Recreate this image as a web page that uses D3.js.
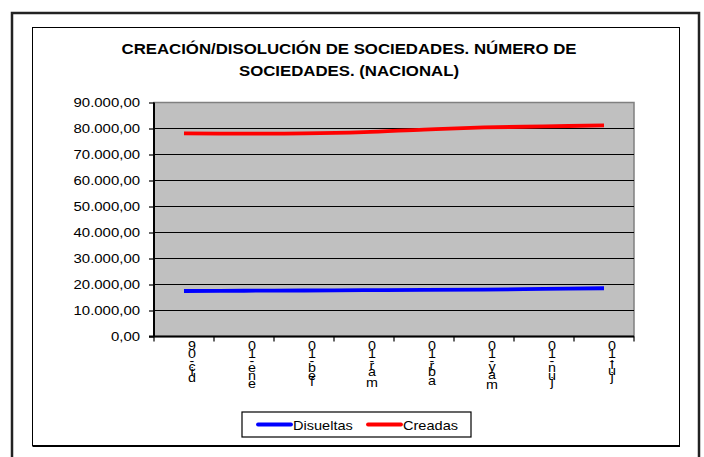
<!DOCTYPE html>
<html>
<head>
<meta charset="utf-8">
<script src="https://cdn.jsdelivr.net/npm/d3@7"></script>
<style>
html,body{margin:0;padding:0;background:#fff;}
svg{display:block;}
</style>
</head>
<body>
<svg id="chart" width="704" height="457"></svg>
<script>
// ---- data ----
const categories = ["dic-09","ene-10","feb-10","mar-10","abr-10","may-10","jun-10","jul-10"];
const disueltas = [17500, 17600, 17700, 17800, 17900, 18050, 18300, 18550];
const creadas   = [78100, 78000, 78100, 78600, 79600, 80400, 80800, 81200];
const yTicks = [0,10000,20000,30000,40000,50000,60000,70000,80000,90000];
const seriesNames = ["Disueltas","Creadas"];
const seriesColors = ["#0000FF","#FF0000"];
const titleLines = ["CREACIÓN/DISOLUCIÓN DE SOCIEDADES. NÚMERO DE","SOCIEDADES. (NACIONAL)"];

const FONT = "Arial, 'Liberation Sans', sans-serif";
const SX = 1.15; // horizontal stretch of the original rendering

const svg = d3.select("#chart");

// frames
svg.append("rect").attr("x",12).attr("y",13).attr("width",687).attr("height",470)
  .attr("fill","#fff").attr("stroke","#222").attr("stroke-width",2.5);
svg.append("rect").attr("x",32.5).attr("y",27.5).attr("width",647).attr("height",418)
  .attr("fill","#fff").attr("stroke","#000").attr("stroke-width",1);
svg.append("line").attr("x1",32.5).attr("x2",680).attr("y1",446).attr("y2",446)
  .attr("stroke","#000").attr("stroke-width",2);

// title
const tg = svg.append("g");
titleLines.forEach((t,i)=>{
  tg.append("text").attr("transform",`translate(349,${54+i*22}) scale(1.12,1)`)
    .attr("text-anchor","middle").attr("font-family",FONT).attr("font-size",15)
    .attr("font-weight","bold").attr("fill","#000").text(t);
});

// scales
const plot = {left:154, right:634, top:102.5, bottom:336.5};
const x = d3.scaleBand().domain(categories).range([plot.left, plot.right]);
const y = d3.scaleLinear().domain([0,90000]).range([plot.bottom, plot.top]);

// plot area
svg.append("rect").attr("x",plot.left).attr("y",plot.top)
  .attr("width",plot.right-plot.left).attr("height",plot.bottom-plot.top)
  .attr("fill","#C0C0C0").attr("stroke","#808080").attr("stroke-width",1.5);

// gridlines
svg.append("g").selectAll("line").data(yTicks.filter(v=>v>0 && v<90000)).join("line")
  .attr("x1",plot.left).attr("x2",plot.right)
  .attr("y1",d=>y(d)).attr("y2",d=>y(d))
  .attr("stroke","#000").attr("stroke-width",1.2);

// y axis
const fmt = v => {
  const s = d3.format(",.2f")(v);
  return s.replace(/,/g,"#").replace(".",",").replace(/#/g,".");
};
const yAxis = svg.append("g").attr("transform",`translate(${plot.left},0)`)
  .call(d3.axisLeft(y).tickValues(yTicks).tickSize(5).tickPadding(9).tickFormat(fmt));
yAxis.select(".domain").attr("stroke","#000").attr("stroke-width",2).attr("d",`M0,${plot.top}V${plot.bottom}`);
yAxis.selectAll(".tick line").attr("stroke","#000").attr("stroke-width",1.2);
yAxis.selectAll(".tick text").attr("x",-14/SX).attr("transform",`scale(${SX},1)`)
  .attr("font-family",FONT).attr("font-size",13).attr("fill","#000");

// x axis (ticks at band boundaries)
const xg = svg.append("g");
xg.append("line").attr("x1",plot.left-5).attr("x2",plot.right).attr("y1",plot.bottom).attr("y2",plot.bottom)
  .attr("stroke","#000").attr("stroke-width",2);
const bounds = categories.map(c=>x(c)).concat([x(categories[categories.length-1])+x.bandwidth()]);
xg.selectAll("line.tk").data(bounds).join("line").attr("class","tk")
  .attr("x1",d=>d).attr("x2",d=>d).attr("y1",plot.bottom).attr("y2",plot.bottom+5)
  .attr("stroke","#000").attr("stroke-width",1.2);

// x labels: rotated text with upright glyphs, stacked bottom-to-top (one text per label)
const ctx = document.createElement("canvas").getContext("2d");
ctx.font = "13px Arial, 'Liberation Sans', sans-serif";
const VS = 1.15, topY = 341;
categories.forEach(c=>{
  const chars = c.split("");
  const widths = chars.map(ch=>ctx.measureText(ch).width);
  const total = d3.sum(widths);
  const cx = x(c) + x.bandwidth()/2 + 8;
  const t = xg.append("text").attr("transform",`translate(${cx},0) scale(1.1,1)`)
    .attr("text-anchor","middle").attr("dominant-baseline","central")
    .attr("font-family",FONT).attr("font-size",13).attr("fill","#000");
  let cum = 0;
  chars.forEach((ch,i)=>{
    const center = total - cum - widths[i]/2; // distance from string end
    cum += widths[i];
    t.append("tspan").attr("x",0).attr("y",topY + center*VS).text(ch);
  });
});

// lines
const line = d3.line()
  .x((d,i)=>x(categories[i]) + x.bandwidth()/2)
  .y(d=>y(d))
  .curve(d3.curveCatmullRom.alpha(0.5));
[disueltas, creadas].forEach((s,i)=>{
  svg.append("path").attr("d",line(s)).attr("fill","none")
    .attr("stroke",seriesColors[i]).attr("stroke-width",3.8);
});

// legend
const lg = svg.append("g");
lg.append("rect").attr("x",242).attr("y",412).attr("width",229).attr("height",25)
  .attr("fill","#fff").attr("stroke","#000").attr("stroke-width",1.2);
const legX = [258, 368];
seriesNames.forEach((n,i)=>{
  lg.append("line").attr("x1",legX[i]).attr("x2",legX[i]+33).attr("y1",424.5).attr("y2",424.5)
    .attr("stroke",seriesColors[i]).attr("stroke-width",3.8).attr("stroke-linecap","round");
  lg.append("text").attr("transform",`translate(${legX[i]+35},429.5) scale(1.12,1)`)
    .attr("font-family",FONT).attr("font-size",13).attr("fill","#000").text(n);
});
</script>
</body>
</html>
